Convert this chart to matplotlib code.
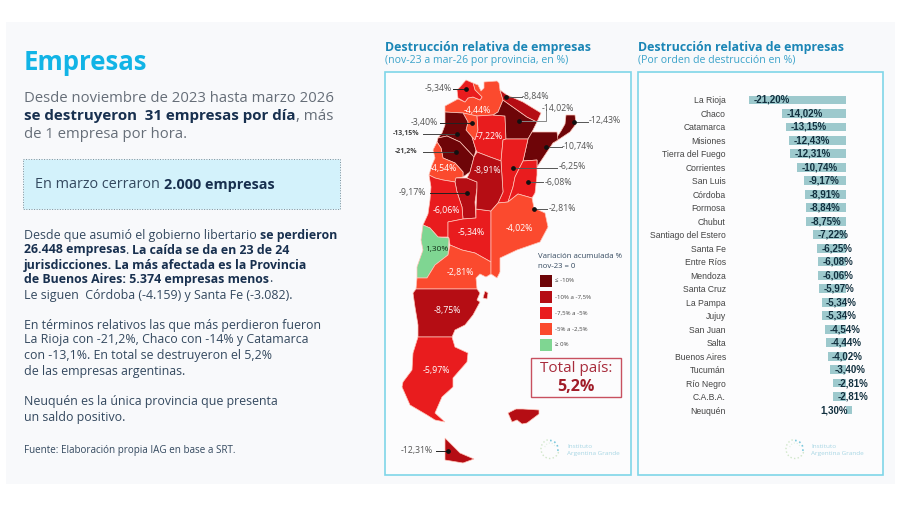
import matplotlib
matplotlib.use('Agg')
import matplotlib.pyplot as plt
from matplotlib.patches import Rectangle, Polygon, Arc

plt.rcParams['font.family'] = ['Open Sans', 'DejaVu Sans']

W, H = 900, 505

# ranking chart
provinces = ['La Rioja', 'Chaco', 'Catamarca', 'Misiones', 'Tierra del Fuego', 'Corrientes',
             'San Luis', 'Córdoba', 'Formosa', 'Chubut', 'Santiago del Estero', 'Santa Fe',
             'Entre Ríos', 'Mendoza', 'Santa Cruz', 'La Pampa', 'Jujuy', 'San Juan', 'Salta',
             'Buenos Aires', 'Tucumán', 'Río Negro', 'C.A.B.A.', 'Neuquén']
values = [-21.20, -14.02, -13.15, -12.43, -12.31, -10.74, -9.17, -8.91, -8.84, -8.75, -7.22, -6.25,
          -6.08, -6.06, -5.97, -5.34, -5.34, -4.54, -4.44, -4.02, -3.40, -2.81, -2.81, 1.30]

# map legend
legend_labels = ['≤ -10%', '-10% a -7,5%', '-7,5% a -5%', '-5% a -2,5%', '≥ 0%']
legend_colors = ['#6e0508', '#b50d14', '#e91c1e', '#fb4a2e', '#7fd692']

# province outlines, in image pixels
jujuy = [(466, 80), (473, 83), (475, 90), (482, 97), (480, 100), (473, 97), (468, 98), (465, 102),
         (458, 98), (457, 90), (460, 87)]
salta = [(473, 83), (478, 85), (481, 91), (484, 88), (484, 82), (497, 81), (499, 83), (500, 90),
         (503, 100), (498, 112), (493, 115), (477, 116), (463, 113), (445, 112), (445, 106), (458, 99),
         (465, 102), (468, 98), (473, 97), (480, 100), (482, 97), (475, 90)]
tucuman = [(463, 113), (477, 116), (478, 130), (475, 140), (472, 137), (466, 130), (468, 122)]
catamarca = [(445, 112), (463, 113), (468, 122), (466, 130), (472, 137), (476, 150), (474, 157),
             (460, 142), (447, 136), (438, 138), (442, 133), (445, 125)]
la_rioja = [(438, 138), (447, 136), (460, 142), (474, 157), (470, 172), (463, 177), (463, 172),
            (455, 163), (443, 158), (441, 148), (437, 142)]
san_juan = [(437, 142), (441, 148), (443, 158), (455, 163), (463, 172), (463, 177), (456, 178),
            (455, 182), (443, 180), (435, 178), (429, 175), (432, 165), (435, 158), (433, 150)]
san_luis = [(456, 178), (467, 178), (477, 182), (477, 188), (475, 202), (476, 218), (463, 219),
            (462, 207), (457, 192), (455, 182)]
mendoza = [(429, 175), (435, 178), (443, 180), (455, 182), (457, 192), (462, 207), (463, 219),
           (448, 222), (448, 237), (438, 237), (430, 228), (423, 225), (428, 214), (430, 200), (431, 187)]
neuquen = [(423, 225), (430, 228), (438, 237), (449, 238), (448, 255), (435, 265), (427, 278),
           (417, 278), (417, 267), (423, 250), (421, 240)]
la_pampa = [(448, 222), (463, 219), (476, 218), (476, 209), (491, 211), (491, 262), (475, 253),
            (462, 250), (450, 245), (449, 238), (448, 237)]
rio_negro = [(417, 278), (427, 278), (435, 265), (448, 255), (450, 245), (462, 250), (475, 253),
             (491, 262), (491, 274), (486, 277), (480, 274), (476, 278), (477, 289), (416, 289)]
chubut = [(416, 289), (477, 289), (480, 293), (477, 300), (480, 302), (473, 315), (465, 325),
          (455, 330), (452, 337), (418, 337), (418, 325), (415, 307), (413, 293)]
valdes = [(485, 291), (488, 293), (487, 299), (483, 298)]
santa_cruz = [(418, 337), (452, 337), (455, 347), (468, 353), (467, 362), (453, 378), (453, 387),
              (442, 397), (435, 413), (445, 422), (435, 420), (427, 415), (410, 405), (402, 387),
              (403, 382), (412, 370), (413, 353)]
tierra_del_fuego = [(445, 438), (452, 445), (460, 453), (474, 459), (463, 463), (445, 460)]
malvinas = [(508, 413), (516, 409), (523, 409), (539, 410), (539, 414), (527, 423), (522, 424),
            (517, 420), (512, 422)]
santiago = [(477, 116), (493, 115), (505, 116), (506, 139), (503, 140), (501, 161), (490, 157),
            (477, 152), (476, 150), (472, 137), (475, 140), (478, 130)]
chaco = [(493, 115), (498, 112), (503, 100), (527, 117), (537, 122), (532, 132), (528, 139), (506, 139),
         (505, 116)]
formosa = [(500, 90), (507, 95), (523, 102), (541, 113), (537, 122), (527, 117), (503, 100)]
misiones = [(566, 115), (575, 115), (576, 124), (570, 132), (558, 140), (553, 143), (561, 131), (565, 124)]
corrientes = [(532, 132), (557, 132), (558, 140), (553, 143), (543, 158), (537, 167), (537, 160), (523, 161),
              (528, 139)]
santa_fe = [(506, 139), (528, 139), (523, 161), (515, 177), (513, 187), (508, 202), (498, 203),
            (503, 192), (501, 161), (503, 140)]
entre_rios = [(523, 161), (537, 160), (537, 175), (535, 193), (532, 198), (518, 194), (508, 202),
              (513, 187), (515, 177)]
cordoba = [(477, 152), (490, 157), (501, 161), (503, 192), (498, 203), (491, 211), (476, 209),
           (477, 188), (477, 182), (467, 178), (470, 172), (474, 157)]
buenos_aires = [(491, 211), (498, 203), (508, 202), (518, 194), (532, 198), (534, 208), (545, 213),
                (548, 227), (540, 242), (517, 250), (500, 258), (500, 272), (497, 278), (491, 274), (491, 262)]

# (outline, legend class)
map_shapes = [(salta, 3), (jujuy, 2), (tucuman, 3), (catamarca, 0), (la_rioja, 0), (san_juan, 3),
              (san_luis, 1), (mendoza, 2), (neuquen, 4), (la_pampa, 2), (rio_negro, 3), (chubut, 1),
              (valdes, 1), (santa_cruz, 2), (tierra_del_fuego, 1), (malvinas, 1), (santiago, 2),
              (chaco, 0), (formosa, 1), (misiones, 0), (corrientes, 0), (santa_fe, 2), (entre_rios, 2),
              (cordoba, 1), (buenos_aires, 3)]

inner_labels = [('-4,44%', 477, 110), ('-7,22%', 489, 137), ('-8,91%', 487, 171), ('-4,54%', 443, 169),
                ('-6,06%', 446, 210), ('-5,34%', 471, 233), ('-4,02%', 519, 228), ('-2,81%', 460, 272),
                ('-8,75%', 447, 310), ('-5,97%', 436, 371)]

# text, label x, label y, line start x, dot x, dot y
callouts = [('-5,34%', 438, 88, 453, 466, 89), ('-8,84%', 535, 97, 522, 506, 97),
            ('-12,43%', 605, 121, 588, 574, 122), ('-3,40%', 424, 123, 440, 472, 123),
            ('-10,74%', 578, 147, 562, 546, 147), ('-6,25%', 572, 167, 557, 513, 168),
            ('-6,08%', 558, 182, 543, 528, 182), ('-2,81%', 562, 208, 547, 534, 209),
            ('-9,17%', 412, 193, 430, 467, 193), ('-12,31%', 417, 450, 436, 448, 451)]

NAVY = '#18304f'
GREY = '#666e78'
BODY = '#34495f'
TITLE = '#1b86b6'
SUB = '#3ba3ca'

fig = plt.figure(figsize=(W / 100, H / 100), dpi=100, facecolor='white')
ax = fig.add_axes([0, 0, 1, 1])
ax.set_xlim(0, W)
ax.set_ylim(H, 0)
ax.axis('off')
renderer = fig.canvas.get_renderer()


def advance(s, size, weight):
    t = ax.text(0, 0, s + '.', fontsize=size, fontweight=weight)
    d = ax.text(0, 0, '.', fontsize=size, fontweight=weight)
    w = t.get_window_extent(renderer).width - d.get_window_extent(renderer).width
    t.remove()
    d.remove()
    return w


def text_line(x, y, parts, size, color, bold_color):
    # one line with regular and bold stretches
    for s, bold in parts:
        weight = 'bold' if bold else 'normal'
        ax.text(x, y, s, fontsize=size, fontweight=weight, color=bold_color if bold else color,
                va='center', ha='left')
        x += advance(s, size, weight)


def logo(cx, cy, tx):
    ax.add_patch(Arc((cx, cy), 16, 17, theta1=-90, theta2=20, color='#7cc8dc', lw=1.2, ls=':'))
    ax.add_patch(Arc((cx, cy), 18, 19, theta1=20, theta2=270, color='#cfe6c8', lw=1.0, ls=':'))
    ax.add_patch(Arc((cx, cy), 11, 12, theta1=200, theta2=330, color='#dff0e0', lw=0.8, ls=':'))
    ax.text(tx, cy - 3, 'Instituto', fontsize=4.6, color='#a7d6e4', va='center')
    ax.text(tx, cy + 4.5, 'Argentina Grande', fontsize=4.6, color='#a7d6e4', va='center')


# background and frames
ax.add_patch(Rectangle((6, 22), 889, 462, fc='#f8f9fb', ec='none', zorder=0))
ax.add_patch(Rectangle((385, 72), 246, 403, fc='#fcfcfd', ec='#7fd6e8', lw=1.2, zorder=1))
ax.add_patch(Rectangle((638, 72), 245, 403, fc='#fcfcfd', ec='#7fd6e8', lw=1.2, zorder=1))

# left column
ax.text(24, 62, 'Empresas', fontsize=18.5, fontweight='bold', color='#12b4e6', va='center')
text_line(24, 99, [('Desde noviembre de 2023 hasta marzo 2026', False)], 10.7, GREY, NAVY)
text_line(24, 116, [('se destruyeron  31 empresas por día', True), (', más', False)], 10.9, GREY, NAVY)
text_line(24, 135, [('de 1 empresa por hora.', False)], 10.7, GREY, NAVY)

ax.add_patch(Rectangle((23, 159), 317, 50, fc='#d3f2fb', ec='#7c8f99', lw=0.7, ls=':', zorder=1))
text_line(35, 185, [('En marzo cerraron ', False), ('2.000 empresas', True)], 10.35, BODY, NAVY)

paragraph = [
    (236, [('Desde que asumió el gobierno libertario ', False), ('se perdieron', True)]),
    (250, [('26.448 empresas', True), ('. ', False), ('La caída se da en 23 de 24', True)]),
    (265, [('jurisdicciones. La más afectada es la Provincia', True)]),
    (279, [('de Buenos Aires: 5.374 empresas menos', True), ('.', False)]),
    (295, [('Le siguen  Córdoba (-4.159) y Santa Fe (-3.082).', False)]),
    (325, [('En términos relativos las que más perdieron fueron', False)]),
    (340, [('La Rioja con -21,2%, Chaco con -14% y Catamarca', False)]),
    (355, [('con -13,1%. En total se destruyeron el 5,2%', False)]),
    (371, [('de las empresas argentinas.', False)]),
    (401, [('Neuquén es la única provincia que presenta', False)]),
    (417, [('un saldo positivo.', False)]),
]
for y, parts in paragraph:
    text_line(24, y, parts, 8.9, BODY, NAVY)
ax.text(24, 450, 'Fuente: Elaboración propia IAG en base a SRT.', fontsize=7.1, color=BODY, va='center')

# panel titles
for x, sub in [(385, '(nov-23 a mar-26 por provincia, en %)'), (638, '(Por orden de destrucción en %)')]:
    ax.text(x, 47.5, 'Destrucción relativa de empresas', fontsize=8.9, fontweight='bold', color=TITLE, va='center')
    ax.text(x, 60.5, sub, fontsize=7.6, color=SUB, va='center')

# map
for outline, cls in map_shapes:
    ax.add_patch(Polygon(outline, closed=True, fc=legend_colors[cls], ec='#ffc4b8', lw=0.5, zorder=2))

for s, x, y in inner_labels:
    ax.text(x, y, s, fontsize=6.3, color='white', ha='center', va='center', zorder=4)
ax.text(437, 249, '1,30%', fontsize=6.0, color='#123018', ha='center', va='center', zorder=4)

for s, lx, ly, sx, dx, dy in callouts:
    ax.plot([sx, dx], [dy, dy], color='#555555' if sx > dx else '#222222', lw=0.7, zorder=3)
    ax.plot(dx, dy, 'o', ms=2.4, color='#111111', zorder=5)
    ax.text(lx, ly, s, fontsize=6.3, color='#555555', ha='center', va='center', zorder=4)

# Chaco callout has an elbow
ax.plot([519, 546, 546], [121, 121, 109], color='#888888', lw=0.7, zorder=3)
ax.plot(519, 121, 'o', ms=2.4, color='#111111', zorder=5)
ax.text(558, 108, '-14,02%', fontsize=6.3, color='#555555', ha='center', va='center', zorder=4)

for s, y, sx, dx in [('-13,15%', 134, 423, 457), ('-21,2%', 152, 423, 456)]:
    ax.plot([sx, dx], [y, y], color='#444444', lw=0.7, zorder=3)
    ax.plot(dx, y, 'o', ms=2.4, color='#111111', zorder=5)
    ax.text(406, y, s, fontsize=5, fontweight='bold', color='#444444', ha='center', va='center', zorder=4)

# legend
ax.text(538, 257, 'Variación acumulada %', fontsize=5.6, color=BODY, va='center')
ax.text(538, 267, 'nov-23 = 0', fontsize=5.6, color=BODY, va='center')
for lab, col, y in zip(legend_labels, legend_colors, [281, 297, 313, 329, 345]):
    ax.add_patch(Rectangle((540, y - 6), 12, 12, fc=col, ec='none', zorder=2))
    ax.text(555, y, lab, fontsize=4.4, color='#444444', va='center')

# total box
ax.add_patch(Rectangle((531, 358), 90, 39, fc='#fcfcfd', ec='#c8505f', lw=1.0, zorder=2))
ax.text(576, 368.5, 'Total país:', fontsize=11, color='#a82c3c', ha='center', va='center', zorder=3)
ax.text(576, 387, '5,2%', fontsize=11.5, fontweight='bold', color='#a01c28', ha='center', va='center', zorder=3)

logo(550, 449, 567)
logo(795, 449, 811)

# ranking bars: zero sits at 846 px, 4.575 px per point, rows 13.48 px apart
bar_ax = fig.add_axes([730 / W, 1 - 425 / H, 150 / W, 340 / H])
bar_ax.patch.set_alpha(0)
rows = list(range(len(provinces)))
bar_ax.barh(rows, values, height=0.66, color='#9dc9cd')
bar_ax.set_xlim((730 - 846) / 4.575, (880 - 846) / 4.575)
bar_ax.set_ylim(23 + (425 - 410) / 13.48, -(100 - 85) / 13.48)
bar_ax.set_yticks(rows)
bar_ax.set_yticklabels(provinces, fontsize=6.2, color='#444444', family='Liberation Sans')
bar_ax.tick_params(axis='y', length=0, pad=3)
bar_ax.set_xticks([])
for side in bar_ax.spines.values():
    side.set_visible(False)
for row, v in zip(rows, values):
    s = f'{v:.2f}'.replace('.', ',') + '%'
    if v < 0:
        bar_ax.annotate(s, (v, row), xytext=(3.2, 0), textcoords='offset points', ha='left', va='center',
                        fontsize=7, fontweight='bold', color='#12303f', family='Liberation Sans')
    else:
        bar_ax.annotate(s, (0, row), xytext=(1.5, 0), textcoords='offset points', ha='right', va='center',
                        fontsize=7, fontweight='bold', color='#12303f', family='Liberation Sans')

fig.savefig('out.png', dpi=100)
